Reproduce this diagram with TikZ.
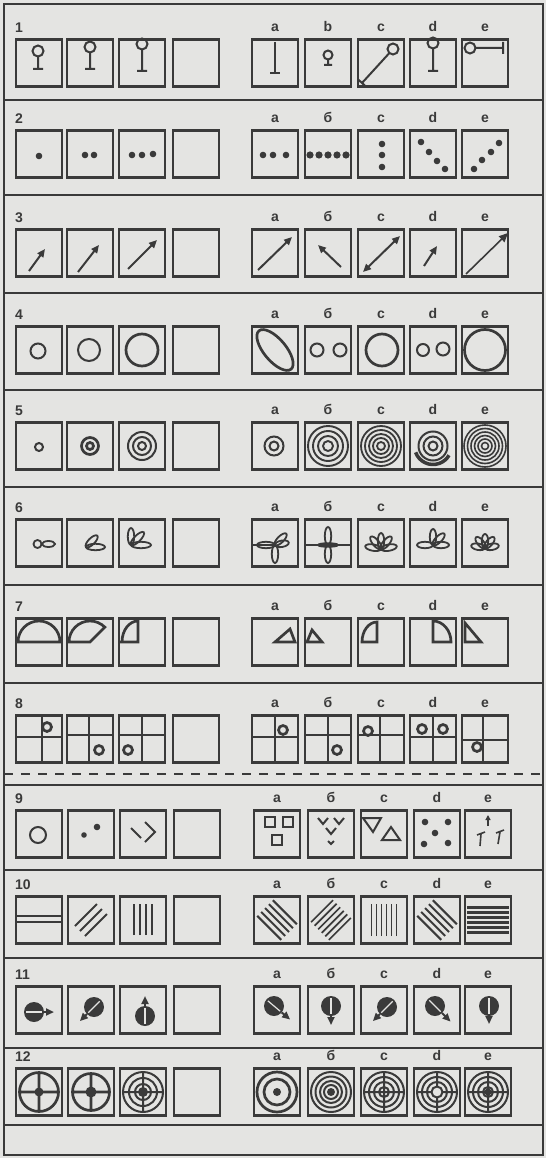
\documentclass[tikz,border=0pt]{standalone}
\usepackage{fontspec}
\setmainfont{Liberation Sans}
\usetikzlibrary{arrows.meta,positioning}
\definecolor{paper}{RGB}{228,228,226}
\definecolor{ink}{RGB}{58,58,58}
\tikzset{
  cell/.style={draw=ink, line width=2.2pt, minimum width=46pt, minimum height=47pt, inner sep=0pt},
  fig/.style={draw=ink, line width=2pt},
  boldfig/.style={draw=ink, line width=2.7pt},
  leaf/.style={draw=ink, line width=1.8pt},
  blob/.style={fill=ink},
  arr/.style={fig, -{Triangle[length=8pt,width=7pt]}},
  darr/.style={fig, {Triangle[length=8pt,width=7pt]}-{Triangle[length=8pt,width=7pt]}},
  frame/.style={draw=ink, line width=1.6pt},
  rowno/.style={font=\bfseries\fontsize{14}{14}\selectfont, text=ink, anchor=south west, inner sep=0pt},
  optlab/.style={font=\bfseries\fontsize{14}{14}\selectfont, text=ink, inner sep=0pt},
}
% lollipop: x, circle y, foot y
\newcommand\lolly[3]{\draw[fig] (#1,#2) circle (5.5) (#1,#2-5.5) -- (#1,#3) (#1-5,#3) -- (#1+5,#3);}
% petal from the local origin
\newcommand\petal[2][8]{\draw[leaf, rotate=#2] (#1,0) ellipse (#1 and 3.2);}
% cross through a box
\newcommand\crossat[2]{\draw[fig] (#1,-23.5) -- (#1,23.5) (-23,#2) -- (23,#2);}
% disk with arrow: x, y, angle, length
\newcommand\disk[4]{\fill[ink] (#1,#2) circle (10);
  \draw[paper, line width=1.2pt] (#1,#2) ++(#3:-8) -- ++(#3:16);
  \draw[arr] (#1,#2) ++(#3:10) -- ++(#3:#4);}

\begin{document}
\begin{tikzpicture}[x=1pt, y=1pt]
\useasboundingbox (0,0) rectangle (546,-1158);
\fill[paper] (0,0) rectangle (546,-1158);

% frame
\draw[frame] (4,-4) rectangle (543,-1155);
\foreach \s in {100,195,293,390,487,585,683,785,870,958,1048,1125}
  \draw[frame] (4,-\s) -- (543,-\s);
\draw[frame, dash pattern=on 9pt off 8pt] (4,-774) -- (543,-774);

% boxes
\foreach \r/\y in {1/63,2/154,3/253,4/350,5/446,6/543,7/642,8/739}
  \foreach \c/\x in {1/39,2/90,3/142,4/196,a/275,b/328,c/381,d/433,e/485}
    \node[cell] (r\r-\c) at (\x,-\y) {};
\foreach \r/\y in {9/834,10/920,11/1010,12/1092}
  \foreach \c/\x in {1/39,2/91,3/143,4/197,a/277,b/331,c/384,d/437,e/488}
    \node[cell] (r\r-\c) at (\x,-\y) {};

% labels
\foreach \r/\bl in {1/b,2/б,3/б,4/б,5/б,6/б,7/б,8/б,9/б,10/б,11/б,12/б} {
  \node[rowno] (n\r) at ([yshift=6pt]r\r-1.north west) {\r};
  \foreach \c/\t in {a/a,b/\bl,c/c,d/d,e/e}
    \node[optlab, above=7pt of r\r-\c] (l\r-\c) {\t};
}

% row 1: lollipops
\begin{scope}[shift={(r1-1)}] \lolly{-1}{12}{-6} \end{scope}
\begin{scope}[shift={(r1-2)}] \lolly{0}{16}{-6} \end{scope}
\begin{scope}[shift={(r1-3)}] \lolly{0}{19}{-8} \end{scope}
\begin{scope}[shift={(r1-a)}] \draw[fig] (0,21) -- (0,-10) (-5,-10) -- (5,-10); \end{scope}
\begin{scope}[shift={(r1-b)}] \draw[fig] (0,8) circle (4.5) (0,3.5) -- (0,-2) (-4,-2) -- (4,-2); \end{scope}
\begin{scope}[shift={(r1-c)}] \draw[fig] (12,14) circle (5.5) (8.3,9.9) -- (-19,-20) (-22.7,-16.6) -- (-15.3,-23.4); \end{scope}
\begin{scope}[shift={(r1-d)}] \lolly{0}{20}{-8} \end{scope}
\begin{scope}[shift={(r1-e)}] \draw[fig] (-15,15) circle (5.5) (-9.5,15) -- (18,15) (18,9) -- (18,21); \end{scope}

% row 2: dots
\begin{scope}[shift={(r2-1)}] \fill[blob] (0,-2) circle (3.3); \end{scope}
\begin{scope}[shift={(r2-2)}] \foreach \p in {(-5,-1),(4,-1)} \fill[blob] \p circle (3.3); \end{scope}
\begin{scope}[shift={(r2-3)}] \foreach \p in {(-10,-1),(0,-1),(11,0)} \fill[blob] \p circle (3.3); \end{scope}
\begin{scope}[shift={(r2-a)}] \foreach \p in {(-12,-1),(-2,-1),(11,-1)} \fill[blob] \p circle (3.3); \end{scope}
\begin{scope}[shift={(r2-b)}] \foreach \i in {-18,-9,0,9,18} \fill[blob] (\i,-1) circle (3.6); \end{scope}
\begin{scope}[shift={(r2-c)}] \foreach \p in {(1,10),(1,-1),(1,-13)} \fill[blob] \p circle (3.3); \end{scope}
\begin{scope}[shift={(r2-d)}] \foreach \p in {(-12,12),(-4,2),(4,-7),(12,-15)} \fill[blob] \p circle (3.3); \end{scope}
\begin{scope}[shift={(r2-e)}] \foreach \p in {(-11,-15),(-3,-6),(6,2),(14,11)} \fill[blob] \p circle (3.3); \end{scope}

% row 3: arrows
\begin{scope}[shift={(r3-1)}] \draw[arr] (-10,-18) -- (6,4); \end{scope}
\begin{scope}[shift={(r3-2)}] \draw[arr] (-12,-19) -- (9,8); \end{scope}
\begin{scope}[shift={(r3-3)}] \draw[arr] (-14,-16) -- (15,13); \end{scope}
\begin{scope}[shift={(r3-a)}] \draw[arr] (-17,-17) -- (17,16); \end{scope}
\begin{scope}[shift={(r3-b)}] \draw[arr] (13,-14) -- (-10,8); \end{scope}
\begin{scope}[shift={(r3-c)}] \draw[darr] (-18,-19) -- (19,17); \end{scope}
\begin{scope}[shift={(r3-d)}] \draw[arr] (-9,-13) -- (4,7); \end{scope}
\begin{scope}[shift={(r3-e)}] \draw[fig, line width=1.6pt, -{Triangle[length=9pt,width=8pt]}] (-19,-21) -- (23,20); \end{scope}

% row 4: circles
\begin{scope}[shift={(r4-1)}] \draw[fig] (-1,-1) circle (7.5); \end{scope}
\begin{scope}[shift={(r4-2)}] \draw[fig] (-1,0) circle (11); \end{scope}
\begin{scope}[shift={(r4-3)}] \draw[boldfig] (0,0) circle (16); \end{scope}
\begin{scope}[shift={(r4-a)}] \draw[boldfig, rotate=-50] (0,0) ellipse (25 and 11); \end{scope}
\begin{scope}[shift={(r4-b)}] \draw[fig] (-11,0) circle (6.5) (12,0) circle (6.5); \end{scope}
\begin{scope}[shift={(r4-c)}] \draw[boldfig] (1,0) circle (16); \end{scope}
\begin{scope}[shift={(r4-d)}] \draw[fig] (-10,0) circle (6) (10,1) circle (6.5); \end{scope}
\begin{scope}[shift={(r4-e)}] \draw[boldfig] (0,0) circle (20.5); \end{scope}

% row 5: rings
\begin{scope}[shift={(r5-1)}] \draw[fig] (0,-1) circle (4); \end{scope}
\begin{scope}[shift={(r5-2)}] \draw[boldfig] (0,0) circle (3.5) circle (8.5); \end{scope}
\begin{scope}[shift={(r5-3)}] \draw[fig] (0,0) circle (4) circle (9) circle (14); \end{scope}
\begin{scope}[shift={(r5-a)}] \draw[fig] (-1,0) circle (4.5) circle (9.5); \end{scope}
\begin{scope}[shift={(r5-b)}] \foreach \q in {5,10,15,20} \draw[fig, line width=1.9pt] (0,0) circle (\q); \end{scope}
\begin{scope}[shift={(r5-c)}] \foreach \q in {4,8,...,20} \draw[fig, line width=1.8pt] (0,0) circle (\q); \end{scope}
\begin{scope}[shift={(r5-d)}] \foreach \q in {4.5,9.5,14.5} \draw[fig] (0,0) circle (\q); \draw[boldfig, line width=3.5pt] (200:18.5) arc (200:330:18.5); \end{scope}
\begin{scope}[shift={(r5-e)}] \foreach \q in {3.5,7,...,21} \draw[fig, line width=1.6pt] (0,0) circle (\q); \end{scope}

% row 6: petals
\begin{scope}[shift={(r6-1)}] \draw[leaf] (-1.5,-1) circle (4) (9.5,-1) ellipse (6.5 and 3); \end{scope}
\begin{scope}[shift={(r6-2)}, shift={(-4,-4)}] \petal[9.5]{0} \petal{45} \end{scope}
\begin{scope}[shift={(r6-3)}, shift={(-11,-2)}] \petal[10]{0} \petal[9]{45} \petal[8.5]{90} \end{scope}
\begin{scope}[shift={(r6-a)}, shift={(0,-2)}] \draw[leaf] (-23,0) -- (0,0); \petal[7]{10} \petal{45} \petal[9]{180} \petal[9]{270} \end{scope}
\begin{scope}[shift={(r6-b)}, shift={(0,-2)}] \draw[leaf] (-22,0) -- (22,0) (0,0) ellipse (10 and 1.8); \petal[9]{90} \petal[9]{270} \end{scope}
\begin{scope}[shift={(r6-c)}, shift={(0,-6)}] \foreach \a in {10,50,90,130,170} {\petal{\a}} \end{scope}
\begin{scope}[shift={(r6-d)}, shift={(0,-2)}] \foreach \a in {0,45,90,180} {\petal{\a}} \end{scope}
\begin{scope}[shift={(r6-e)}, shift={(0,-5)}] \foreach \a in {10,50,90,130,170} {\petal[7]{\a}} \end{scope}

% row 7: sectors
\begin{scope}[shift={(r7-1)}] \draw[boldfig] (-23,0) -- (23,0) (21,0) arc (0:180:21); \end{scope}
\begin{scope}[shift={(r7-2)}] \draw[boldfig] (-23,0) -- (0,0) -- (45:21) arc (45:180:21); \end{scope}
\begin{scope}[shift={(r7-3)}] \draw[boldfig] (-23,0) -- (-4,0) -- (-4,21) arc (90:180:16 and 21); \end{scope}
\begin{scope}[shift={(r7-a)}] \draw[boldfig] (0,0) -- (15,13) -- (20,0) -- cycle; \end{scope}
\begin{scope}[shift={(r7-b)}] \draw[boldfig] (-21,0) -- (-16,12) -- (-6,0) -- cycle; \end{scope}
\begin{scope}[shift={(r7-c)}] \draw[boldfig] (-4,0) -- (-4,20) arc (90:180:15 and 20) -- cycle; \end{scope}
\begin{scope}[shift={(r7-d)}] \draw[boldfig] (0,0) -- (0,21) arc (90:0:18 and 21) -- cycle; \end{scope}
\begin{scope}[shift={(r7-e)}] \draw[boldfig] (-20,0) -- (-20,19) -- (-4,0) -- cycle; \end{scope}

% row 8: crosses
\begin{scope}[shift={(r8-1)}] \crossat{3}{2} \draw[boldfig] (8,12) circle (4.5); \end{scope}
\begin{scope}[shift={(r8-2)}] \crossat{-1}{4} \draw[boldfig] (9,-11) circle (4.5); \end{scope}
\begin{scope}[shift={(r8-3)}] \crossat{0}{4} \draw[boldfig] (-14,-11) circle (4.5); \end{scope}
\begin{scope}[shift={(r8-a)}] \crossat{0}{2} \draw[boldfig] (8,9) circle (4.5); \end{scope}
\begin{scope}[shift={(r8-b)}] \crossat{0}{4} \draw[boldfig] (9,-11) circle (4.5); \end{scope}
\begin{scope}[shift={(r8-c)}] \crossat{-1}{4} \draw[boldfig] (-13,8) circle (4.5); \end{scope}
\begin{scope}[shift={(r8-d)}] \crossat{0}{2} \draw[boldfig] (-11,10) circle (4.5) (10,10) circle (4.5); \end{scope}
\begin{scope}[shift={(r8-e)}] \crossat{-2}{-1} \draw[boldfig] (-8,-8) circle (4.5); \end{scope}

% row 9: mixed signs
\begin{scope}[shift={(r9-1)}] \draw[fig] (-1,-1) circle (8); \end{scope}
\begin{scope}[shift={(r9-2)}] \fill[blob] (-7,-1) circle (2.8) (6,7) circle (3.3); \end{scope}
\begin{scope}[shift={(r9-3)}] \draw[fig] (-12,6) -- (-2,-4) (2,12) -- (12,2) -- (2,-8); \end{scope}
\begin{scope}[shift={(r9-a)}] \draw[boldfig] (-12,7) rectangle (-2,17) (6,7) rectangle (16,17) (-5,-11) rectangle (5,-1); \end{scope}
\begin{scope}[shift={(r9-b)}] \foreach \p in {(-8,13),(8,13),(0,3)} {\draw[fig] \p ++(-5,3) -- ++(5,-6) -- ++(5,6);}
  \draw[fig] (-3,-7) -- (0,-10) -- (3,-7); \end{scope}
\begin{scope}[shift={(r9-c)}] \draw[fig] (-21,16) -- (-3,16) -- (-11,2) -- cycle (-2,-6) -- (16,-6) -- (7,7) -- cycle; \end{scope}
\begin{scope}[shift={(r9-d)}] \foreach \p in {(-12,12),(11,12),(-2,1),(-13,-10),(11,-9)} {\fill[blob] \p circle (3.3);} \end{scope}
\begin{scope}[shift={(r9-e)}] \draw[fig, line width=1.6pt, -{Triangle[length=5pt,width=5pt]}] (0,8) -- (0,19);
  \draw[fig, line width=1.6pt] (-11,-1) -- (-3,2) (-7,0) -- (-8,-12) (8,1) -- (16,4) (12,2) -- (10,-10); \end{scope}

% row 10: stripes
\begin{scope}[shift={(r10-1)}] \draw[fig] (-23,4) -- (23,4) (-23,-2) -- (23,-2); \end{scope}
\begin{scope}[shift={(r10-2)}] \foreach \o in {-7,0,7} {\draw[fig] ({-0.71*\o-11},{0.71*\o-11}) -- ++(22,22);} \end{scope}
\begin{scope}[shift={(r10-3)}] \foreach \o in {-9,-3,3,9} {\draw[fig] (\o,-15) -- (\o,16);} \end{scope}
\begin{scope}[shift={(r10-a)}] \foreach \o in {-11,-5.5,0,5.5,11} {\draw[fig] ({0.71*\o-12},{0.71*\o+12}) -- ++(24,-24);} \end{scope}
\begin{scope}[shift={(r10-b)}] \foreach \o in {-12.5,-7.5,...,12.5} {\draw[fig, line width=1.7pt] ({-0.71*\o-11},{0.71*\o-11}) -- ++(22,22);} \end{scope}
\begin{scope}[shift={(r10-c)}] \foreach \o in {-12.5,-7.5,...,12.5} {\draw[fig, line width=1.7pt] (\o,-16) -- (\o,16);} \end{scope}
\begin{scope}[shift={(r10-d)}] \foreach \o in {-11,-5.5,0,5.5,11} {\draw[fig] ({0.71*\o-12},{0.71*\o+12}) -- ++(24,-24);} \end{scope}
\begin{scope}[shift={(r10-e)}] \foreach \o in {-12.5,-7.5,...,12.5} {\draw[boldfig] (-21,\o) -- (21,\o);} \end{scope}

% row 11: disks with arrows
\begin{scope}[shift={(r11-1)}] \disk{-5}{-2}{0}{10} \end{scope}
\begin{scope}[shift={(r11-2)}] \disk{3}{3}{225}{10} \end{scope}
\begin{scope}[shift={(r11-3)}] \disk{2}{-6}{90}{10} \end{scope}
\begin{scope}[shift={(r11-a)}] \disk{-3}{4}{-40}{11} \end{scope}
\begin{scope}[shift={(r11-b)}] \disk{0}{4}{-90}{9} \end{scope}
\begin{scope}[shift={(r11-c)}] \disk{3}{3}{225}{10} \end{scope}
\begin{scope}[shift={(r11-d)}] \disk{-2}{4}{-45}{12} \end{scope}
\begin{scope}[shift={(r11-e)}] \disk{1}{4}{-90}{8} \end{scope}

% row 12: targets
\begin{scope}[shift={(r12-1)}] \draw[boldfig] (0,0) circle (19.5) (-19.5,0) -- (19.5,0) (0,-19.5) -- (0,19.5); \fill[blob] (0,0) circle (4.5); \end{scope}
\begin{scope}[shift={(r12-2)}] \draw[boldfig] (0,0) circle (18.5) (-18.5,0) -- (18.5,0) (0,-18.5) -- (0,18.5); \fill[blob] (0,0) circle (5.5); \end{scope}
\begin{scope}[shift={(r12-3)}] \draw[fig] (0,0) circle (20) circle (14) circle (8) (-20,0) -- (20,0) (0,-20) -- (0,20); \fill[blob] (0,0) circle (5); \end{scope}
\begin{scope}[shift={(r12-a)}] \draw[boldfig] (0,0) circle (20) circle (13); \fill[blob] (0,0) circle (4); \end{scope}
\begin{scope}[shift={(r12-b)}] \draw[fig] (0,0) circle (20) circle (15.5) circle (11) circle (7); \fill[blob] (0,0) circle (4); \end{scope}
\begin{scope}[shift={(r12-c)}] \draw[fig] (0,0) circle (20) circle (15) circle (10) circle (5) (-20,0) -- (20,0) (0,-20) -- (0,20); \end{scope}
\begin{scope}[shift={(r12-d)}] \draw[fig] (0,0) circle (20) circle (15) circle (10) circle (5.5) (-20,0) -- (-5.5,0) (5.5,0) -- (20,0) (0,-20) -- (0,-5.5) (0,5.5) -- (0,20); \end{scope}
\begin{scope}[shift={(r12-e)}] \draw[fig] (0,0) circle (20) circle (15) circle (10) circle (5) (-20,0) -- (20,0) (0,-20) -- (0,20); \fill[blob] (0,0) circle (3.5); \end{scope}
\end{tikzpicture}
\end{document}
